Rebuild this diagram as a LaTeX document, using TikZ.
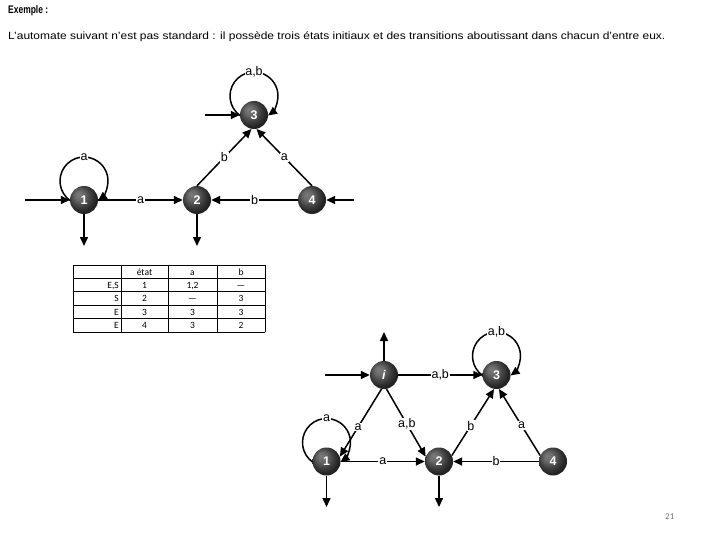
\documentclass[tikz,border=0pt]{standalone}
\usepackage{fontspec}
\setmainfont{Liberation Sans}
\newfontfamily\tabfont{Carlito}
\usetikzlibrary{arrows.meta,calc}
\pgfdeclareradialshading{myball}{\pgfqpoint{-10bp}{10bp}}{color(0bp)=(black!52); color(8bp)=(black!58); color(18bp)=(black!75); color(25bp)=(black!85); color(50bp)=(black)}
\begin{document}
\begin{tikzpicture}[x=1pt,y=-1pt,
  st/.style={circle, minimum size=28pt, inner sep=0pt, shading=myball, text=white, font=\bfseries\fontsize{12.5}{12.5}\selectfont},
  tr/.style={line width=1.5pt, -{Triangle[length=9pt,width=8pt]}},
  lbl/.style={fill=white, inner sep=0.8pt, font=\fontsize{12.5}{12.5}\selectfont},
  cell/.style={font=\tabfont\fontsize{9.5}{9.5}\selectfont, inner sep=0pt, anchor=base},
  rcell/.style={cell, anchor=base east},
  tline/.style={line width=0.8pt},
  txt/.style={inner sep=0pt, anchor=base west}
]
\useasboundingbox (0,0) rectangle (720,540);

% texts
\node[txt, font=\bfseries\fontsize{11}{12}\selectfont] (title) at (8,14) {\scalebox{0.77}[1]{Exemple :}};
\node[txt, font=\fontsize{10.5}{12}\selectfont] (intro) at (8,39.5) {\scalebox{1.14}[1]{L'automate suivant n'est pas standard : il possède trois états initiaux et des transitions aboutissant dans chacun d'entre eux.}};
\node[txt, font=\tabfont\fontsize{9}{9}\selectfont, text=black!55] (pnum) at (665,519) {21};

% ---------- top automaton ----------
\node[st] (t1) at (84,200) {1};
\node[st] (t2) at (197,200) {2};
\node[st] (t3) at (254,115) {3};
\node[st] (t4) at (312,200) {4};
\coordinate (t1in) at (25,200);
\coordinate (t1out) at (84,246);
\coordinate (t2out) at (197,246);
\coordinate (t3in) at (205,115);
\coordinate (t4in) at (354,200);

\draw[tr] (t1in) -- (t1);
\draw[tr] (t3in) -- (t3);
\draw[tr] (t4in) -- (t4);
\draw[tr] (t1) -- (t1out);
\draw[tr] (t2) -- (t2out);
\draw[tr] (t1) -- node[lbl] {a} (t2);
\draw[tr] (t4) -- node[lbl] {b} (t2);
\draw[tr] (t2.north) -- node[lbl] {b} (t3.-100);
\draw[tr] (t4.north) -- node[lbl] {a} (t3.-80);
\draw[tr] ($(t1)+(0,-19)$) ++(234.3:24pt) arc[start angle=234.3, end angle=-54.3, radius=24pt];
\node[lbl] (t1loop) at ($(t1)+(0,-43)$) {a};
\draw[tr] ($(t3)+(0,-19)$) ++(234.3:24pt) arc[start angle=234.3, end angle=-54.3, radius=24pt];
\node[lbl] (t3loop) at ($(t3)+(0,-43)$) {a,b};

% ---------- table ----------
\foreach \x in {73,121,168,217,265} \draw[tline] (\x,265) -- (\x,332);
\foreach \y in {265,278.4,291.8,305.2,318.6,332} \draw[tline] (73,\y) -- (265,\y);
\node[cell] (h2) at (144.5,275) {état};
\node[cell] (h3) at (192.5,275) {a};
\node[cell] (h4) at (241,275) {b};
\node[rcell] (r1c1) at (119,288.4) {E,S};
\node[cell] (r1c2) at (144.5,288.4) {1};
\node[cell] (r1c3) at (192.5,288.4) {1,2};
\node[cell] (r1c4) at (241,288.4) {—};
\node[rcell] (r2c1) at (119,301.8) {S};
\node[cell] (r2c2) at (144.5,301.8) {2};
\node[cell] (r2c3) at (192.5,301.8) {—};
\node[cell] (r2c4) at (241,301.8) {3};
\node[rcell] (r3c1) at (119,315.2) {E};
\node[cell] (r3c2) at (144.5,315.2) {3};
\node[cell] (r3c3) at (192.5,315.2) {3};
\node[cell] (r3c4) at (241,315.2) {3};
\node[rcell] (r4c1) at (119,328.6) {E};
\node[cell] (r4c2) at (144.5,328.6) {4};
\node[cell] (r4c3) at (192.5,328.6) {3};
\node[cell] (r4c4) at (241,328.6) {2};

% ---------- bottom automaton ----------
\node[st] (bi) at (384,375) {\textit{i}};
\node[st] (b3) at (496.5,375) {3};
\node[st] (b1) at (326.5,461.5) {1};
\node[st] (b2) at (439,461.5) {2};
\node[st] (b4) at (553,461.5) {4};
\coordinate (biin) at (325,375);
\coordinate (biout) at (384,332);
\coordinate (b1out) at (326.5,507);
\coordinate (b2out) at (439,507);

\draw[tr] (biin) -- (bi);
\draw[tr] (bi) -- (biout);
\draw[tr] (b1) -- (b1out);
\draw[tr] (b2) -- (b2out);
\draw[tr] (bi) -- node[lbl] {a,b} (b3);
\draw[tr] (bi.-100) -- node[lbl, pos=0.56] {a} (b1.20);
\draw[tr] (bi.-80) -- node[lbl, pos=0.52] {a,b} (b2.160);
\draw[tr] (b1) -- node[lbl] {a} (b2);
\draw[tr] (b4) -- node[lbl] {b} (b2);
\draw[tr] (b2.25) -- node[lbl, pos=0.45] {b} (b3.-100);
\draw[tr] (b4.155) -- node[lbl, pos=0.45] {a} (b3.-80);
\draw[tr] ($(b1)+(0,-19)$) ++(234.3:24pt) arc[start angle=234.3, end angle=-54.3, radius=24pt];
\node[lbl] (b1loop) at ($(b1)+(0,-43)$) {a};
\draw[tr] ($(b3)+(0,-19)$) ++(234.3:24pt) arc[start angle=234.3, end angle=-54.3, radius=24pt];
\node[lbl] (b3loop) at ($(b3)+(0,-43)$) {a,b};
\end{tikzpicture}
\end{document}
